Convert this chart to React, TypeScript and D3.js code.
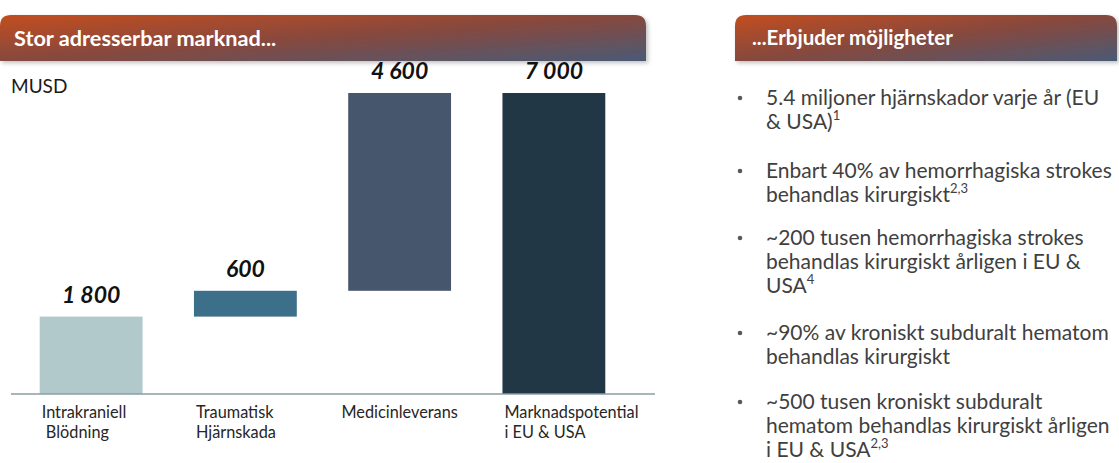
import React from 'react';
import * as d3 from 'd3';

const categories = ['Intrakraniell Blödning', 'Traumatisk Hjärnskada', 'Medicinleverans', 'Marknadspotential i EU & USA'];
const labelLines = [['Intrakraniell', ' Blödning'], ['Traumatisk', 'Hjärnskada'], ['Medicinleverans'], ['Marknadspotential', 'i EU & USA']];
const values = [1800, 600, 4600, 7000];
const valueLabels = ['1 800', '600', '4 600', '7 000'];
const isTotal = [false, false, false, true];
const barColors = ['#b1c9ca', '#3b6f8a', '#46576d', '#223746'];

// right panel bullets: [text, superscript]
const bullets: [string[], string][] = [
  [['5.4 miljoner hjärnskador varje år (EU', '& USA)'], '1'],
  [['Enbart 40% av hemorrhagiska strokes', 'behandlas kirurgiskt'], '2,3'],
  [['~200 tusen hemorrhagiska strokes', 'behandlas kirurgiskt årligen i EU &', 'USA'], '4'],
  [['~90% av kroniskt subduralt hematom', 'behandlas kirurgiskt'], ''],
  [['~500 tusen kroniskt subduralt', 'hematom behandlas kirurgiskt årligen', 'i EU & USA'], '2,3'],
];
const bulletTops = [105, 178, 245, 340, 409];

const W = 1119;
const H = 463;
const font = 'Lato, "Open Sans", sans-serif';

const headerPath = (x0: number, x1: number, y0: number, y1: number, r: number) =>
  `M${x0},${y1}V${y0 + r}Q${x0},${y0} ${x0 + r},${y0}H${x1 - r}Q${x1},${y0} ${x1},${y0 + r}V${y1}Z`;

export default function App() {
  // waterfall start/end
  let run = 0;
  const bars = values.map((v, i) => {
    const start = isTotal[i] ? 0 : run;
    const end = isTotal[i] ? v : run + v;
    if (!isTotal[i]) run += v;
    return { cat: categories[i], start, end, i };
  });

  const x = d3.scaleBand().domain(categories).range([14, 631]).paddingInner(1 / 3).paddingOuter(1 / 6);
  const y = d3.scaleLinear().domain([0, 7000]).range([394, 93]);

  return (
    <svg width={W} height={H} style={{ position: 'absolute', left: 0, top: 0, background: '#fff' }} fontFamily={font}>
      <defs>
        <linearGradient id="hdr" x1="0" y1="0" x2="1" y2="1">
          <stop offset="0" stopColor="#c24e20" />
          <stop offset="0.5" stopColor="#86493e" />
          <stop offset="1" stopColor="#4a5a76" />
        </linearGradient>
        <filter id="sh" x="-5%" y="-20%" width="110%" height="150%">
          <feDropShadow dx="2" dy="2" stdDeviation="2" floodColor="#000" floodOpacity="0.25" />
        </filter>
      </defs>

      {/* headers */}
      <path d={headerPath(0, 646, 15, 61, 11)} fill="url(#hdr)" filter="url(#sh)" />
      <text x={14} y={46} fill="#fff" fontWeight="bold" fontSize={21.7}>Stor adresserbar marknad...</text>
      <path d={headerPath(735, 1117, 15, 61, 11)} fill="url(#hdr)" filter="url(#sh)" />
      <text x={752} y={45} fill="#fff" fontWeight="bold" fontSize={20.5}>...Erbjuder möjligheter</text>

      <text x={11} y={93} fontSize={19} fill="#1a1a1a">MUSD</text>

      {/* bars */}
      {bars.map((b) => (
        <rect key={b.cat} x={x(b.cat)} y={y(b.end)} width={x.bandwidth()} height={y(b.start) - y(b.end)} fill={barColors[b.i]} />
      ))}
      {bars.map((b) => (
        <text key={'v' + b.cat} x={(x(b.cat) as number) + x.bandwidth() / 2} y={y(b.end) - 14} textAnchor="middle"
          fontSize={23} fontWeight="bold" fontStyle="italic" fill="#111">{valueLabels[b.i]}</text>
      ))}

      {/* axis line */}
      <line x1={11} x2={655} y1={y(0)} y2={y(0)} stroke="#8c9ca6" strokeWidth={1.5} />

      {/* category labels */}
      {labelLines.map((lines, i) => {
        const bx = x(categories[i]) as number;
        const mid = i === 2;
        return (
          <text key={'c' + i} x={mid ? bx + x.bandwidth() / 2 : bx + 2} textAnchor={mid ? 'middle' : 'start'}
            fontSize={16.3} fill="#262626" style={{ whiteSpace: 'pre' }}>
            {lines.map((l, j) => (
              <tspan key={j} x={mid ? bx + x.bandwidth() / 2 : bx + 2} y={418 + j * 20}>{l}</tspan>
            ))}
          </text>
        );
      })}

      {/* bullets */}
      {bullets.map(([lines, sup], i) => (
        <g key={'b' + i}>
          <circle cx={740} cy={bulletTops[i] - 7} r={2.3} fill="#595959" />
          <text fontSize={21} fill="#404040">
            {lines.map((l, j) => (
              <tspan key={j} x={766} y={bulletTops[i] + j * 24}>
                {l}
                {j === lines.length - 1 && sup ? <tspan fontSize={13} dy={-9}>{sup}</tspan> : null}
              </tspan>
            ))}
          </text>
        </g>
      ))}
    </svg>
  );
}
